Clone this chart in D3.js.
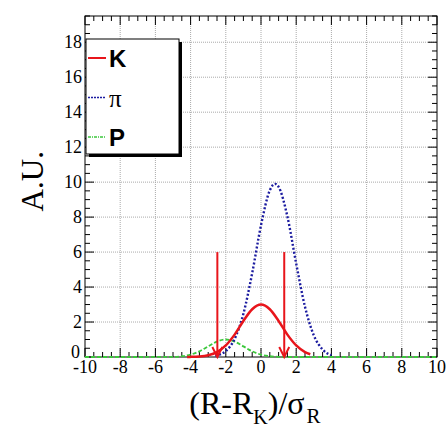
<!DOCTYPE html>
<html>
<head>
<meta charset="utf-8">
<script src="https://cdn.jsdelivr.net/npm/d3@7"></script>
<style>
  body { margin: 0; background: #fff; }
  svg { display: block; }
  .serif { font-family: "Liberation Serif", "Times New Roman", serif; }
  .sans { font-family: "Liberation Sans", Arial, sans-serif; }
</style>
</head>
<body>
<div class="graph"></div>
<script>
// values
var kX  = [-4.2, -4, -3.5, -3, -2.5, -2, -1.5, -1, -0.5, 0, 0.5, 1, 1.5, 2, 2.5, 2.8];
var kY  = [0.004, 0.007, 0.029, 0.10, 0.28, 0.66, 1.28, 2.06, 2.73, 3.0, 2.73, 2.06, 1.28, 0.66, 0.28, 0.155];

var piX = [-2.6, -2.5, -2, -1.5, -1, -0.5, 0, 0.5, 0.8, 1, 1.5, 2, 2.5, 3, 3.5, 4];
var piY = [0.07, 0.093, 0.34, 1.03, 2.47, 4.80, 7.53, 9.53, 9.9, 9.73, 8.03, 5.34, 2.87, 1.24, 0.43, 0.1];

var pX  = [-10, -5, -4.5, -4, -3.5, -3, -2.5, -2, -1.5, -1, -0.5, 0, 0.5, 1, 1.5, 10];
var pY  = [0, 0.003, 0.044, 0.135, 0.325, 0.607, 0.882, 1, 0.882, 0.607, 0.325, 0.135, 0.044, 0.011, 0, 0];

var cutX = [-2.48, 1.32];   // red arrows
var cutTop = 6;

var xTicks = [-10, -8, -6, -4, -2, 0, 2, 4, 6, 8, 10];
var yTicks = [0, 2, 4, 6, 8, 10, 12, 14, 16, 18];
var legendLabels = ["K", "\u03c0", "P"];

var margin = {top: 16, right: 9, bottom: 72, left: 85},
    width = 446 - margin.left - margin.right,
    height = 429 - margin.top - margin.bottom;

var x = d3.scaleLinear().domain([-10, 10]).range([0, width]);
var y = d3.scaleLinear().domain([0, 19.5]).range([height, 0]);

var svg = d3.select(".graph").append("svg")
    .attr("width", 446)
    .attr("height", 429)
  .append("g")
    .attr("transform", "translate(" + margin.left + "," + margin.top + ")");

// grid
svg.selectAll(".vgrid")
    .data(xTicks.slice(1, -1))
  .enter().append("line")
    .attr("x1", d => x(d)).attr("x2", d => x(d))
    .attr("y1", 0).attr("y2", height)
    .attr("stroke", "#aaa").attr("stroke-width", 1)
    .attr("stroke-dasharray", "1,1");

svg.selectAll(".hgrid")
    .data(yTicks.slice(1))
  .enter().append("line")
    .attr("x1", 0).attr("x2", width)
    .attr("y1", d => y(d)).attr("y2", d => y(d))
    .attr("stroke", "#aaa").attr("stroke-width", 1)
    .attr("stroke-dasharray", "1,1");

var line = d3.line()
    .x(d => x(d[0]))
    .y(d => y(d[1]))
    .curve(d3.curveMonotoneX);

var zip = (a, b) => a.map((v, i) => [v, b[i]]);

// frame + ticks drawn before curves so the curves sit on the axis line
svg.append("rect")
    .attr("width", width).attr("height", height)
    .attr("fill", "none").attr("stroke", "#000").attr("stroke-width", 1);

var xMinor = d3.range(-10, 10.01, 0.5);
var yMinor = d3.range(0, 19.51, 0.5);

svg.selectAll(".xtick")
    .data(xMinor)
  .enter().append("g")
    .each(function(d) {
      var len = (Math.abs(d % 2) < 1e-6) ? 9 : 5;
      d3.select(this).append("line")
        .attr("x1", x(d)).attr("x2", x(d))
        .attr("y1", height).attr("y2", height - len)
        .attr("stroke", "#000");
      d3.select(this).append("line")
        .attr("x1", x(d)).attr("x2", x(d))
        .attr("y1", 0).attr("y2", len)
        .attr("stroke", "#000");
    });

svg.selectAll(".ytick")
    .data(yMinor)
  .enter().append("g")
    .each(function(d) {
      var len = (Math.abs(d % 2) < 1e-6) ? 9 : 5;
      d3.select(this).append("line")
        .attr("x1", 0).attr("x2", len)
        .attr("y1", y(d)).attr("y2", y(d))
        .attr("stroke", "#000");
      d3.select(this).append("line")
        .attr("x1", width).attr("x2", width - len)
        .attr("y1", y(d)).attr("y2", y(d))
        .attr("stroke", "#000");
    });

// curves
svg.append("path")
    .datum(zip(pX, pY))
    .attr("d", line)
    .attr("fill", "none")
    .attr("stroke", "#3cc83c")
    .attr("stroke-width", 1.8)
    .attr("stroke-dasharray", "4,2");

svg.append("path")
    .datum(zip(piX, piY))
    .attr("d", line)
    .attr("fill", "none")
    .attr("stroke", "#1c1ca0")
    .attr("stroke-width", 2.4)
    .attr("stroke-dasharray", "2,2");

svg.append("path")
    .datum(zip(kX, kY))
    .attr("d", line)
    .attr("fill", "none")
    .attr("stroke", "#e8151b")
    .attr("stroke-width", 2.5);

// arrows
var arrows = svg.selectAll(".arrow")
    .data(cutX)
  .enter().append("g");

arrows.append("line")
    .attr("x1", d => x(d)).attr("x2", d => x(d))
    .attr("y1", y(cutTop)).attr("y2", y(0))
    .attr("stroke", "#e8151b").attr("stroke-width", 2);

arrows.append("path")
    .attr("d", d => "M" + (x(d) - 5) + "," + (y(0) - 10) + "L" + x(d) + "," + y(0) + "L" + (x(d) + 5) + "," + (y(0) - 10))
    .attr("fill", "none")
    .attr("stroke", "#e8151b").attr("stroke-width", 2);

// tick labels
svg.selectAll(".xlab")
    .data(xTicks)
  .enter().append("text")
    .attr("class", "serif")
    .attr("x", d => x(d))
    .attr("y", height + 16)
    .attr("text-anchor", "middle")
    .style("font-size", "18px")
    .text(d => d);

svg.selectAll(".ylab")
    .data(yTicks)
  .enter().append("text")
    .attr("class", "serif")
    .attr("x", d => d == 0 ? -5 : -3)
    .attr("y", d => d == 0 ? y(d) + 1 : y(d) + 6)
    .attr("text-anchor", "end")
    .style("font-size", "18px")
    .text(d => d);

// axis titles
var xt = svg.append("text")
    .attr("class", "serif")
    .attr("x", x(0) - 6)
    .attr("y", height + 57)
    .attr("text-anchor", "middle")
    .style("font-size", "32px");
xt.append("tspan").text("(R-R");
xt.append("tspan").attr("dy", 10).style("font-size", "20px").text("K");
xt.append("tspan").attr("dy", -10).text(")/\u03c3");
xt.append("tspan").attr("dy", 9).attr("dx", 2).style("font-size", "21px").text("R");

svg.append("text")
    .attr("class", "serif")
    .attr("transform", "translate(" + (-42) + "," + y(10.05) + ") rotate(-90)")
    .attr("text-anchor", "middle")
    .style("font-size", "31px")
    .text("A.U.");

// legend
var lg = svg.append("g").attr("transform", "translate(1," + 23 + ")");
lg.append("rect")
    .attr("x", 3).attr("y", 3)
    .attr("width", 93).attr("height", 115)
    .attr("fill", "#000");
lg.append("rect")
    .attr("width", 93).attr("height", 115)
    .attr("fill", "#fff").attr("stroke", "#000").attr("stroke-width", 1);

var legendStyle = [
  {color: "#e8151b", dash: null, w: 2},
  {color: "#1c1ca0", dash: "2,1", w: 1.5},
  {color: "#3cc83c", dash: "3,1,1,1", w: 1.5}
];

legendLabels.forEach(function(lab, i) {
  var ly = 19 + i * 39.5;
  lg.append("line")
    .attr("x1", 2).attr("x2", 20)
    .attr("y1", ly).attr("y2", ly)
    .attr("stroke", legendStyle[i].color)
    .attr("stroke-width", legendStyle[i].w)
    .attr("stroke-dasharray", legendStyle[i].dash);
  lg.append("text")
    .attr("class", i == 1 ? "serif" : "sans")
    .attr("x", 23)
    .attr("y", ly + 9)
    .style("font-weight", i == 1 ? "normal" : "bold")
    .style("font-size", i == 1 ? "25px" : "24px")
    .text(lab);
});
</script>
</body>
</html>
